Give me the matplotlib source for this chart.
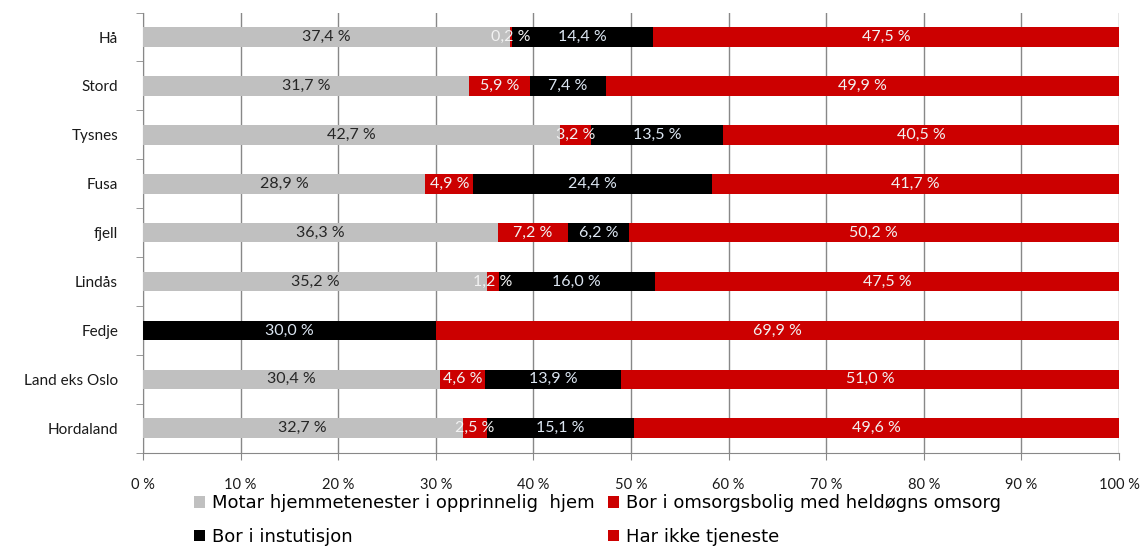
import matplotlib
matplotlib.use("Agg")
import matplotlib.pyplot as plt
import numpy as np

plt.rcParams['font.family'] = ['Lato', 'DejaVu Sans']

# data (percent, each row normalised to 100 %)
kommunar = ["Hå", "Stord", "Tysnes", "Fusa", "fjell", "Lindås", "Fedje",
            "Land eks Oslo", "Hordaland"]
hjemme = [37.4, 31.7, 42.7, 28.9, 36.3, 35.2, 0.0, 30.4, 32.7]
omsorgsbolig = [0.2, 5.9, 3.2, 4.9, 7.2, 1.2, 0.0, 4.6, 2.5]
institusjon = [14.4, 7.4, 13.5, 24.4, 6.2, 16.0, 30.0, 13.9, 15.1]
ingen = [47.5, 49.9, 40.5, 41.7, 50.2, 47.5, 69.9, 51.0, 49.6]

serie_namn = ["Motar hjemmetenester i opprinnelig  hjem",
              "Bor i omsorgsbolig med heldøgns omsorg",
              "Bor i instutisjon",
              "Har ikke tjeneste"]
fargar = ["#c0c0c0", "#cc0000", "#000000", "#cc0000"]
tekstfarge = ["#262626", "#f2f2f2", "#dce6f2", "#f2f2f2"]

serier = np.array([hjemme, omsorgsbolig, institusjon, ingen])
andel = serier / serier.sum(axis=0) * 100

fig = plt.figure(figsize=(11.48, 5.48), dpi=100)
ax = fig.add_axes([0.1246, 0.174, 0.8502, 0.803])

y = np.arange(len(kommunar))
venstre = np.zeros(len(kommunar))
bars = []
for i in range(4):
    b = ax.barh(y, andel[i], left=venstre, height=0.4, color=fargar[i],
                label=serie_namn[i], zorder=3)
    bars.append(b)
    for j in range(len(kommunar)):
        if serier[i, j] > 0:
            txt = ("%.1f %%" % serier[i, j]).replace(".", ",")
            ax.text(venstre[j] + andel[i, j] / 2, y[j], txt,
                    ha="center", va="center", fontsize=11.5,
                    color=tekstfarge[i], zorder=4)
    venstre += andel[i]

ax.set_xlim(0, 100)
ax.set_ylim(len(kommunar) - 0.5, -0.5)
ax.set_yticks(y)
ax.set_yticklabels(kommunar, fontsize=11, color="#1a1a1a")
ax.set_yticks(np.arange(-0.5, len(kommunar), 1), minor=True)
ax.tick_params(axis="y", which="major", length=0, pad=18)
ax.tick_params(axis="y", which="minor", length=5, color="#888888")
ax.set_xticks(np.arange(0, 101, 10))
ax.set_xticklabels(["%d %%" % v for v in range(0, 101, 10)], fontsize=10.5,
                   color="#1a1a1a")
ax.tick_params(axis="x", length=5, color="#888888", pad=13)
ax.grid(axis="x", color="#888888", linewidth=1, zorder=0)
for s in ["top", "right"]:
    ax.spines[s].set_visible(False)
for s in ["left", "bottom"]:
    ax.spines[s].set_color("#888888")

fig.legend([bars[0], bars[2], bars[1], bars[3]],
           [serie_namn[0], serie_namn[2], serie_namn[1], serie_namn[3]],
           ncol=2, frameon=False, loc="upper left",
           bbox_to_anchor=(0.169, 0.098), prop={"family": "DejaVu Sans", "size": 13},
           handlelength=0.6, handleheight=0.6, handletextpad=0.4,
           labelspacing=0.85, columnspacing=0.75, borderpad=0, borderaxespad=0)

fig.savefig("out.png", dpi=100)
